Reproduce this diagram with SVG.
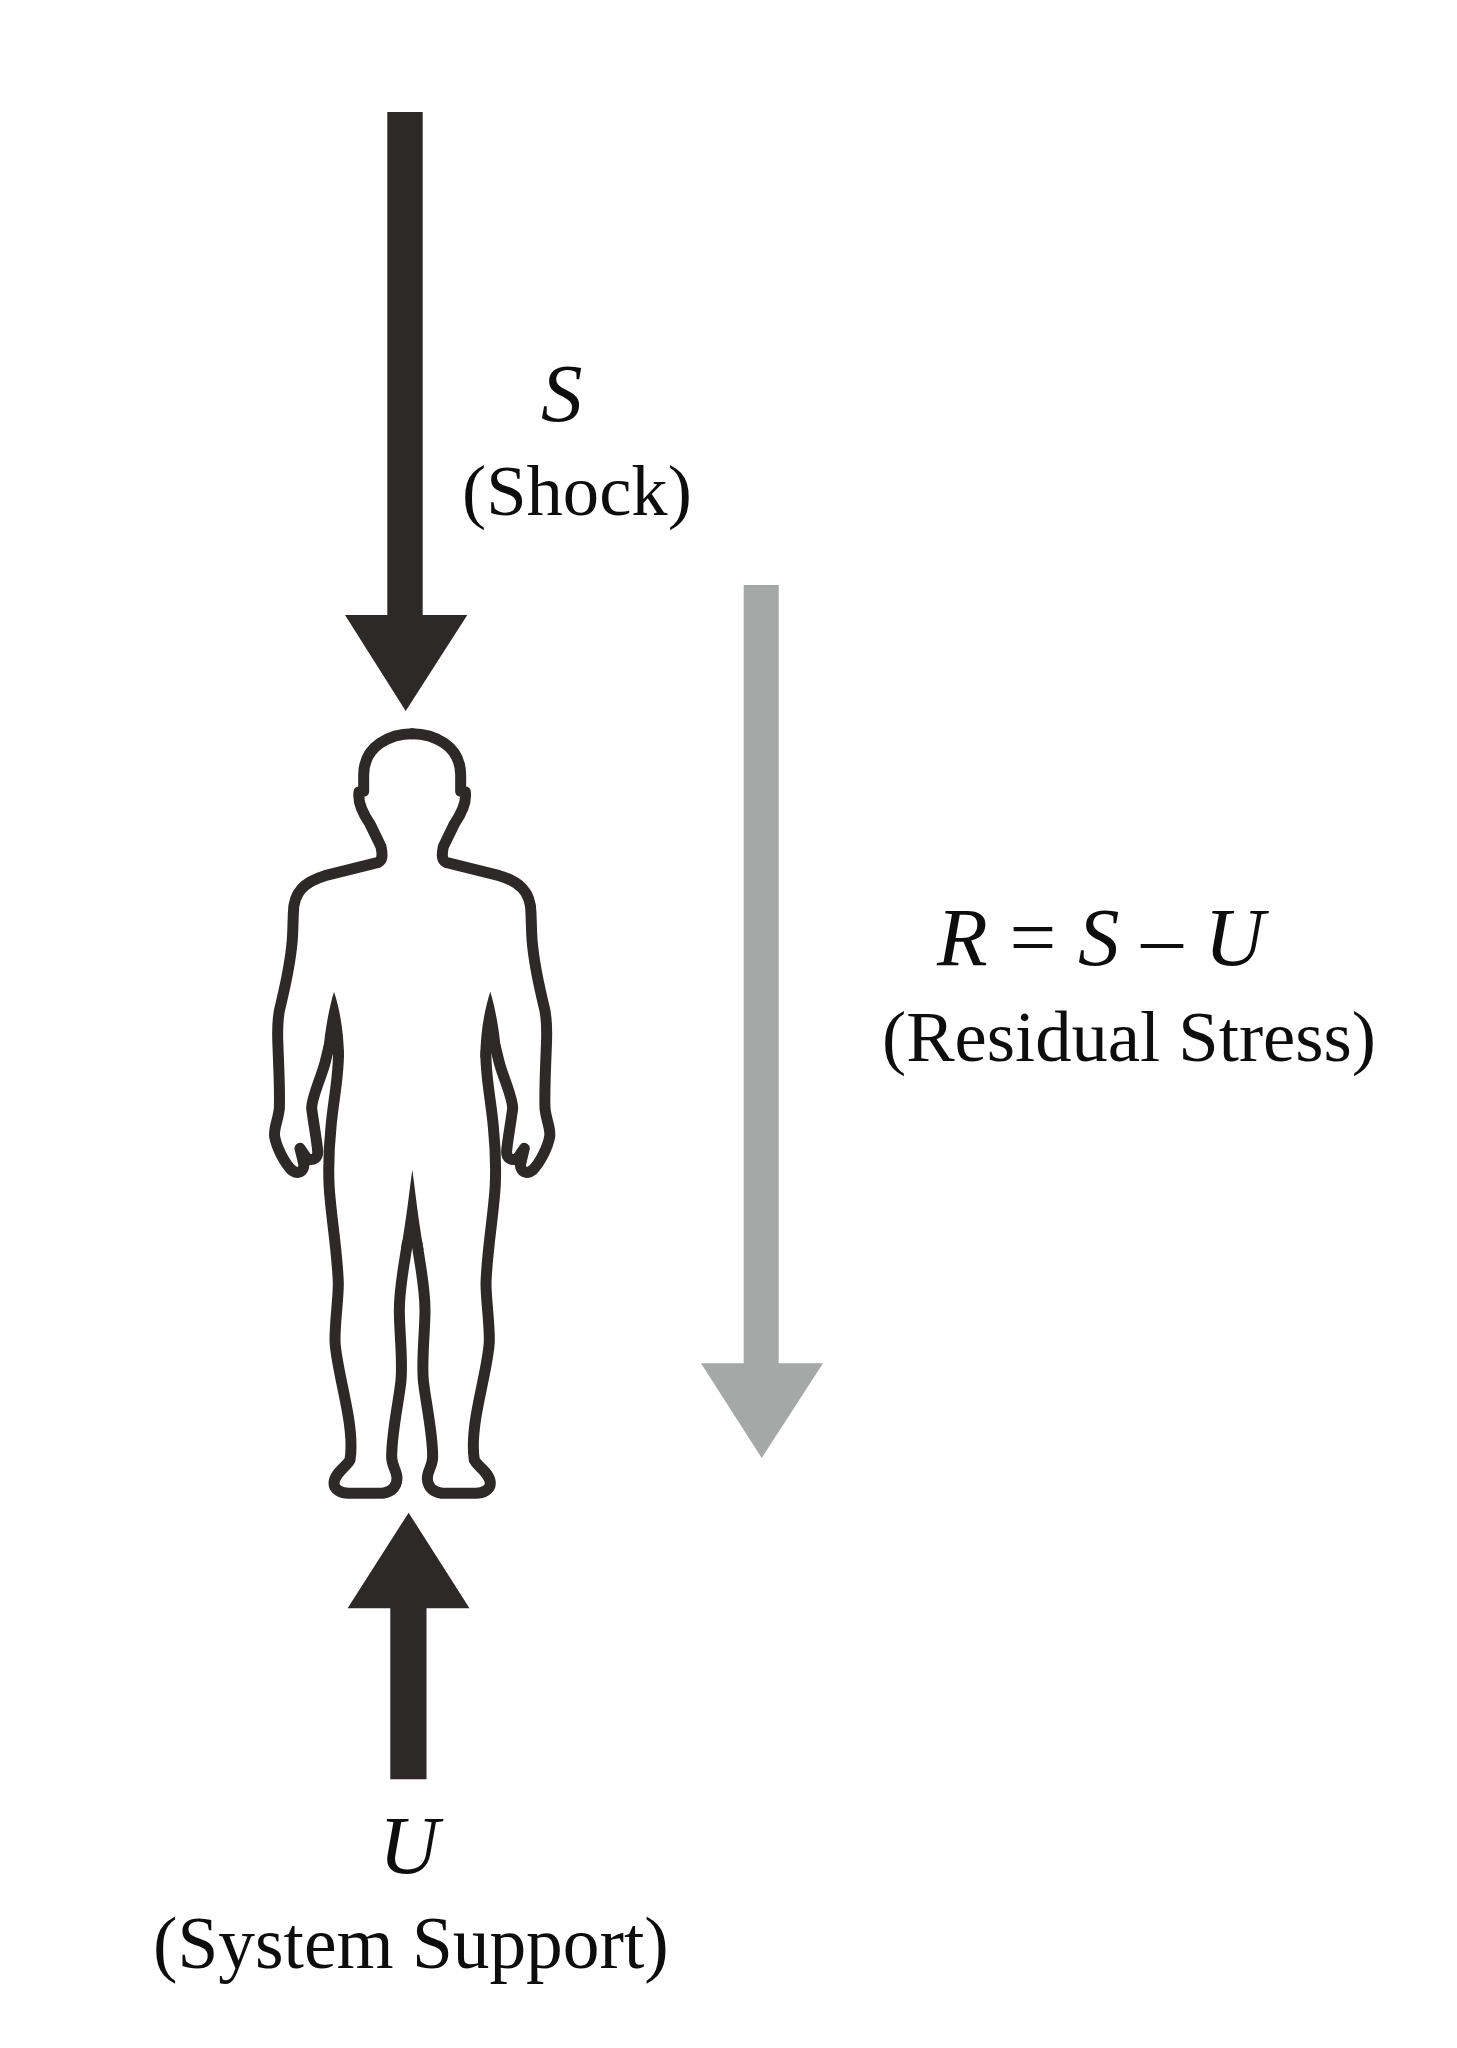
<svg xmlns="http://www.w3.org/2000/svg" xmlns:xlink="http://www.w3.org/1999/xlink" width="1457" height="2048" viewBox="0 0 1457 2048">
<style>
.dark{fill:#2c2928}
.grey{fill:#a6a7a7}
.line{fill:none;stroke:#2c2928;stroke-width:33;stroke-linejoin:round;stroke-linecap:round}
text{font-family:"Liberation Serif","Times New Roman",serif;fill:#0d0d0d;text-anchor:start}
.sym{font-size:83px;font-style:italic}
.cap{font-size:72.6px}
.up{font-style:normal}
</style>
<defs>
<g id="half">
<path class="line" d="M487,101 C425,101 341,135 341,225 L341,274 L327,276 C322,310 345,350 360,372 L393,440 C398,465 398,480 385,487 L225,527 C165,545 130,575 130,640 L128,700 C125,780 105,860 92,915 C82,950 82,1000 84,1040 C86,1100 90,1170 88,1225 C85,1260 70,1285 74,1310 C80,1345 105,1390 125,1410 C145,1425 160,1415 162,1395 L150,1345 L172,1377 C190,1382 205,1375 203,1352 C200,1320 190,1265 185,1225 C185,1190 215,1130 226,1085 L237,1040"/>
<path class="line" d="M265,1055 C268,1120 250,1200 243,1280 C237,1340 235,1400 237,1450 C240,1530 262,1650 265,1750 C265,1800 255,1860 255,1920 C255,1970 280,2060 295,2150 C303,2200 305,2250 300,2280 C290,2300 252,2320 252,2350 C252,2370 275,2380 295,2380 L385,2380 C420,2380 440,2365 441,2335 C441,2310 425,2300 425,2270 C425,2200 445,2110 452,2050 C460,1990 448,1900 448,1830 C448,1760 465,1680 472,1630"/>
<path class="dark" d="M252,875 C237,925 226,985 219,1060 L248,1045 L282,1075 C282,1000 270,930 252,875 Z"/>
</g>
</defs>
<rect width="1457" height="2048" fill="#fff"/>
<g id="connectors">
<path id="arrow-shock" class="dark" d="M387.3,112 H422.7 V615 H467.3 L405.7,711 L345,615 H387.3 Z"/>
<path id="arrow-residual" class="grey" d="M743.7,585 H778.7 V1363.3 H823 L761.7,1458 L701,1363.3 H743.7 Z"/>
<path id="arrow-support" class="dark" d="M390.3,1779.3 H426.5 V1608.3 H469.5 L408.6,1512.7 L347.6,1608.3 H390.3 Z"/>
</g>
<g id="person" transform="translate(250 700) scale(.33333)">
<use href="#half" xlink:href="#half"/>
<use href="#half" xlink:href="#half" transform="matrix(-1 0 0 1 973 0)"/>
<path class="dark" d="M487,1410 C482,1440 472,1540 453,1650 L487,1632 L521,1650 C502,1540 492,1440 487,1410 Z"/>
</g>
<g id="label-shock">
<text class="sym" x="541" y="421">S</text>
<text class="cap" x="462" y="515">(Shock)</text>
</g>
<g id="label-residual">
<text class="sym" x="937" y="965" word-spacing="1">R <tspan class="up">=</tspan> S <tspan class="up">–</tspan> U</text>
<text class="cap" x="882" y="1061">(Residual Stress)</text>
</g>
<g id="label-support">
<text class="sym" x="379" y="1873">U</text>
<text class="cap" x="153" y="1968" style="font-size:73.4px">(System Support)</text>
</g>
</svg>
